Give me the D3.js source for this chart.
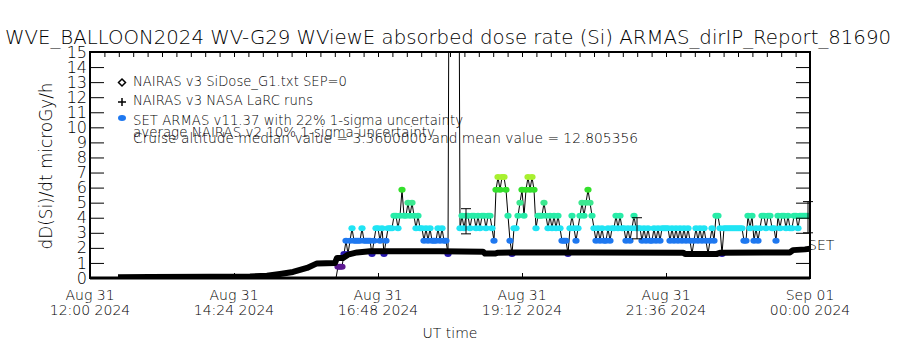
<!DOCTYPE html>
<html>
<head>
<meta charset="utf-8">
<script src="https://cdn.jsdelivr.net/npm/d3@7"></script>
<style>
body { margin: 0; background: #fff; }
text { font-family: "DejaVu Sans", sans-serif; fill: #000; font-weight: 300; }
</style>
</head>
<body>
<svg id="chart" width="900" height="350"></svg>
<script>
// ---- data ----
const t0 = Date.UTC(2024, 7, 31, 12, 0);
const t1 = Date.UTC(2024, 8, 1, 0, 0);

// quantized ARMAS dose-rate levels (microGy/h) and their dot colours
const armasLevels = [0.75, 1.6, 2.47, 3.3, 4.13, 5.0, 5.85, 6.7];
const armasColors = ["#5c1890", "#2818b0", "#1e78f0", "#20e4f4", "#28eca8", "#3ce890", "#34e02c", "#a8f030"];
const spikeValue = 40;          // 'S' = off scale
const armasStart = 246;         // minutes after 12:00 UT
const armasStep = 2;            // minutes per sample
// one char per sample: level index, z = 0, S = spike
const armasSamples = [
  "z0001212322223222212",
  "33231233344346445454",
  "34332323222323221SSS",
  "SS343443443434434432",
  "67677642133456467676",
  "34445434343432221343",
  "23454565432323223233",
  "43433232343332323223",
  "23233332323232323212",
  "32323212324431333333",
  "33332243423234434433",
  "24344343344344444"
];

// NAIRAS v3 SiDose (minutes after 12:00, value)
const nairasMin = [28, 60, 120, 160, 177, 190, 203, 217, 227, 245, 247, 253, 258, 267, 280, 350, 393, 395, 405, 408, 450, 500, 593, 595, 627, 630, 700, 703, 715, 720];
const nairasVal = [0.05, 0.06, 0.08, 0.1, 0.15, 0.27, 0.4, 0.67, 0.97, 1.0, 1.33, 1.33, 1.55, 1.7, 1.77, 1.78, 1.75, 1.62, 1.62, 1.68, 1.7, 1.7, 1.68, 1.6, 1.6, 1.68, 1.7, 1.85, 1.9, 1.95];

// average NAIRAS error bars: minute, low, high
const errMin = [376, 547, 718];
const errLow = [2.93, 2.6, 3.0];
const errHigh = [4.6, 4.0, 5.07];

const yTicks = [0, 1, 2, 3, 4, 5, 6, 7, 8, 9, 10, 11, 12, 13, 14, 15];
const xTickMin = [0, 144, 288, 432, 576, 720];
const xTickLine1 = ["Aug 31", "Aug 31", "Aug 31", "Aug 31", "Aug 31", "Sep 01"];
const xTickLine2 = ["12:00 2024", "14:24 2024", "16:48 2024", "19:12 2024", "21:36 2024", "00:00 2024"];

const legendText = [
  "NAIRAS v3 SiDose_G1.txt SEP=0",
  "NAIRAS v3 NASA LaRC runs",
  "SET ARMAS v11.37 with 22% 1-sigma uncertainty",
  "average NAIRAS v2 10% 1-sigma uncertainty",
  "Cruise altitude median value = 3.3600000 and mean value = 12.805356"
];

// ---- drawing ----
const minute = m => new Date(t0 + m * 60000);
const svg = d3.select("#chart");

const x = d3.scaleUtc().domain([t0, t1]).range([90, 810]);
const y = d3.scaleLinear().domain([0, 15]).range([278, 52]);

svg.append("defs").append("clipPath").attr("id", "plot")
  .append("rect").attr("x", 90).attr("y", 52).attr("width", 720).attr("height", 226);

// title
svg.append("text")
  .attr("x", 5).attr("y", 44)
  .attr("font-size", 20).attr("font-weight", 200)
  .attr("textLength", 886).attr("lengthAdjust", "spacingAndGlyphs")
  .text("WVE_BALLOON2024 WV-G29 WViewE absorbed dose rate (Si) ARMAS_dirIP_Report_81690");

// armas series
const armas = armasSamples.join("").split("").map((c, i) => {
  let lvl = -1, v;
  if (c === "z") v = 0;
  else if (c === "S") v = spikeValue;
  else { lvl = +c; v = armasLevels[lvl]; }
  return {t: minute(armasStart + i * armasStep), v: v, lvl: lvl};
});

const plot = svg.append("g").attr("clip-path", "url(#plot)");

plot.append("path")
  .datum(armas)
  .attr("fill", "none")
  .attr("stroke", "#000")
  .attr("stroke-width", 1)
  .attr("d", d3.line().x(d => x(d.t)).y(d => y(d.v)));

plot.append("g")
  .selectAll("ellipse")
  .data(armas.filter(d => d.lvl >= 0))
  .enter()
  .append("ellipse")
    .attr("cx", d => x(d.t))
    .attr("cy", d => y(d.v))
    .attr("rx", 3.6)
    .attr("ry", 3)
    .attr("fill", d => armasColors[d.lvl]);

// nairas v3 thick curve
const nairas = nairasMin.map((m, i) => ({t: minute(m), v: nairasVal[i]}));
plot.append("path")
  .datum(nairas)
  .attr("fill", "none")
  .attr("stroke", "#000")
  .attr("stroke-width", 6)
  .attr("stroke-linejoin", "round")
  .attr("d", d3.line().x(d => x(d.t)).y(d => y(d.v)));

// error bars
const eb = svg.append("g").attr("stroke", "#000").attr("stroke-width", 1);
errMin.forEach((m, i) => {
  const cx = x(minute(m));
  eb.append("line").attr("x1", cx).attr("x2", cx).attr("y1", y(errLow[i])).attr("y2", y(errHigh[i]));
  eb.append("line").attr("x1", cx - 5).attr("x2", cx + 5).attr("y1", y(errLow[i])).attr("y2", y(errLow[i]));
  eb.append("line").attr("x1", cx - 5).attr("x2", cx + 5).attr("y1", y(errHigh[i])).attr("y2", y(errHigh[i]));
});

// axes
svg.append("g")
  .attr("transform", "translate(90,0)")
  .call(d3.axisLeft(y).tickValues(yTicks).tickSize(-14).tickPadding(3).tickFormat(d3.format("d")))
  .call(g => g.select(".domain").remove())
  .call(g => g.selectAll("text").attr("font-size", 16).attr("font-family", "DejaVu Sans"));

svg.append("g")
  .attr("transform", "translate(810,0)")
  .call(d3.axisRight(y).tickValues(yTicks).tickSize(-14).tickFormat(""))
  .call(g => g.select(".domain").remove());

const minorTicks = d3.range(0, 51).map(k => new Date(t0 + k * 14.4 * 60000));
svg.append("g")
  .attr("transform", "translate(0,52)")
  .call(d3.axisTop(x).tickValues(minorTicks).tickSize(-5).tickFormat(""))
  .call(g => g.select(".domain").remove());

svg.append("g")
  .attr("transform", "translate(0,278)")
  .call(d3.axisBottom(x).tickValues(xTickMin.map(minute)).tickSize(-5).tickFormat(""))
  .call(g => g.select(".domain").remove());

svg.append("rect")
  .attr("x", 90).attr("y", 52).attr("width", 720).attr("height", 226)
  .attr("fill", "none").attr("stroke", "#000").attr("stroke-width", 2);
svg.append("line").attr("x1", 90).attr("x2", 810).attr("y1", 278).attr("y2", 278)
  .attr("stroke", "#000").attr("stroke-width", 3);

// x tick labels, two lines each
const xl = svg.append("g").attr("font-size", 14).attr("text-anchor", "middle");
xTickMin.forEach((m, i) => {
  const cx = x(minute(m));
  xl.append("text").attr("x", cx).attr("y", 300).text(xTickLine1[i]);
  xl.append("text").attr("x", cx).attr("y", 315).text(xTickLine2[i]);
});

svg.append("text")
  .attr("x", 450).attr("y", 338)
  .attr("font-size", 14).attr("text-anchor", "middle")
  .text("UT time");

svg.append("text")
  .attr("transform", "translate(52,166) rotate(-90)")
  .attr("font-size", 18).attr("text-anchor", "middle")
  .attr("textLength", 167).attr("lengthAdjust", "spacingAndGlyphs")
  .text("dD(Si)/dt microGy/h");

svg.append("text")
  .attr("x", 808).attr("y", 250)
  .attr("font-size", 14)
  .text("SET");

// legend
const legY = [86, 105, 125, 137, 143];
const legW = [214, 180, 330, 302, 505];
const leg = svg.append("g").attr("font-size", 14);
legendText.forEach((s, i) => {
  leg.append("text")
    .attr("x", 133).attr("y", legY[i])
    .attr("textLength", legW[i]).attr("lengthAdjust", "spacingAndGlyphs")
    .text(s);
});
leg.append("path")
  .attr("d", "M122,79 L125.5,82.5 L122,86 L118.5,82.5 Z")
  .attr("fill", "none").attr("stroke", "#000").attr("stroke-width", 1.5);
leg.append("path")
  .attr("d", "M118,102 H126 M122,98 V106")
  .attr("stroke", "#000").attr("stroke-width", 1.5);
leg.append("ellipse")
  .attr("cx", 122).attr("cy", 118).attr("rx", 4).attr("ry", 3)
  .attr("fill", armasColors[2]);
</script>
</body>
</html>
